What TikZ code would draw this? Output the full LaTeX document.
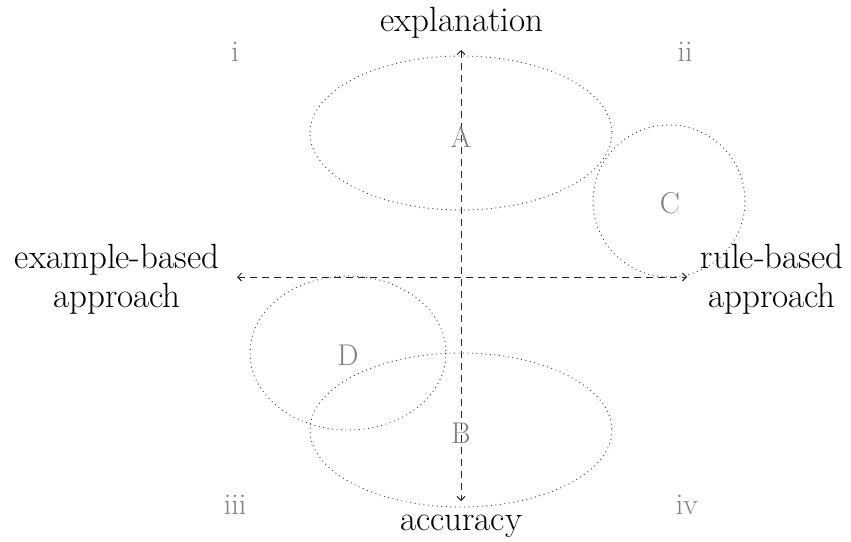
\documentclass[tikz,border=0pt]{standalone}
\usetikzlibrary{arrows.meta}
\tikzset{
  axis/.style={draw=black!85, line width=0.9pt, dash pattern=on 7pt off 5pt, {Straight Barb[length=4pt,width=8pt]}-{Straight Barb[length=4pt,width=8pt]}},
  region/.style={draw=black!80, line width=0.9pt, dash pattern=on 0.9pt off 3.6pt},
  lbl/.style={text=black!50, font=\fontsize{30}{36}\selectfont, inner sep=0pt},
  axlbl/.style={font=\fontsize{35}{39}\selectfont, align=center, inner sep=0pt},
}
\begin{document}
\begin{tikzpicture}[x=1pt,y=-1pt]
\useasboundingbox (0,0) rectangle (851,541);
% axes
\coordinate (top) at (461,50);
\coordinate (bot) at (461,501);
\coordinate (lft) at (237,277);
\coordinate (rgt) at (687,277);
\draw[axis] (top) -- (bot);
\draw[axis] (lft) -- (rgt);
% regions
\draw[region] (461,133) ellipse [x radius=151, y radius=77];
\draw[region] (669,201) circle [radius=76];
\draw[region] (348,353) ellipse [x radius=98, y radius=77];
\draw[region] (461,430) ellipse [x radius=151, y radius=77];
% region labels
\node[lbl] (A) at (461,137) {A};
\node[lbl] (C) at (670,203) {C};
\node[lbl] (D) at (348,355) {D};
\node[lbl] (B) at (461,433) {B};
% quadrant labels
\node[lbl] (q1) at (235,52) {i};
\node[lbl] (q2) at (685,52) {ii};
\node[lbl] (q3) at (235,505) {iii};
\node[lbl] (q4) at (687,505) {iv};
% axis labels
\node[axlbl, anchor=base] (expl) at (462,31) {explanation};
\node[axlbl, anchor=base] (acc) at (461,530) {accuracy};
\node[axlbl] (ex) at (117,279) {example-based\\approach};
\node[axlbl] (rule) at (772,279) {rule-based\\approach};
\end{tikzpicture}
\end{document}
